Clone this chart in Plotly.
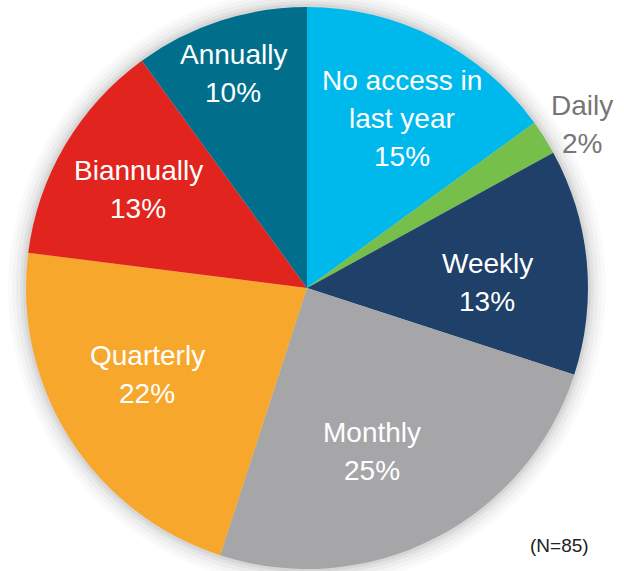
import plotly.graph_objects as go

# ---- data ----
categories = ["No access in<br>last year", "Daily", "Weekly", "Monthly",
              "Quarterly", "Biannually", "Annually"]
values = [15, 2, 13, 25, 22, 13, 10]
colors = ["#00B9EC", "#76BF4A", "#1F4069", "#A6A6A8",
          "#F7A82C", "#E1241D", "#016F8C"]
label_colors = ["white", "#767676", "white", "white", "white", "white", "white"]
# label centre positions in pixels (layout, not marks)
label_px = [(402, 119), (582, 124), (487, 282), (372, 451),
            (147, 374), (138, 189), (233, 74)]
note = "(N=85)"

W, H = 624, 571
CX, CY, R = 307, 288, 281
LINE = 38
FONT = "Liberation Sans, Arial"

fig = go.Figure()
fig.add_trace(go.Pie(
    labels=categories, values=values, sort=False, direction="clockwise",
    rotation=0, textinfo="none", hoverinfo="label+percent",
    marker=dict(colors=colors, line=dict(width=0)),
    domain=dict(x=[(CX - R) / W, (CX + R) / W],
                y=[(H - CY - R) / H, (H - CY + R) / H]),
    showlegend=False,
))

# soft shadow around pie
shapes = []
for extra, alpha in [(18, 0.02), (14, 0.025), (10, 0.03), (6, 0.04), (3, 0.05)]:
    rr = R + extra
    shapes.append(dict(type="circle", xref="paper", yref="paper", layer="below",
                       x0=(CX - rr) / W, x1=(CX + rr) / W,
                       y0=(H - CY - rr) / H, y1=(H - CY + rr) / H,
                       fillcolor=f"rgba(0,0,0,{alpha})", line=dict(width=0)))

total = sum(values)
annotations = []
for cat, v, c, (px, py) in zip(categories, values, label_colors, label_px):
    lines = cat.split("<br>") + [f"{round(100 * v / total)}%"]
    n = len(lines)
    for i, ln in enumerate(lines):
        yy = py + (i - (n - 1) / 2) * LINE
        annotations.append(dict(
            x=px / W, y=1 - yy / H, xref="paper", yref="paper",
            text=ln, showarrow=False,
            font=dict(family=FONT, size=28, color=c),
            xanchor="center", yanchor="middle", align="center"))
annotations.append(dict(
    x=559 / W, y=1 - 545 / H, xref="paper", yref="paper", text=note,
    showarrow=False, font=dict(family=FONT, size=19, color="#222222"),
    xanchor="center", yanchor="middle"))

fig.update_layout(
    width=W, height=H, margin=dict(l=0, r=0, t=0, b=0),
    paper_bgcolor="white", plot_bgcolor="white",
    shapes=shapes, annotations=annotations,
)
fig.write_html("out.html", config={"displayModeBar": False},
               post_script="document.body.style.margin='0';")
